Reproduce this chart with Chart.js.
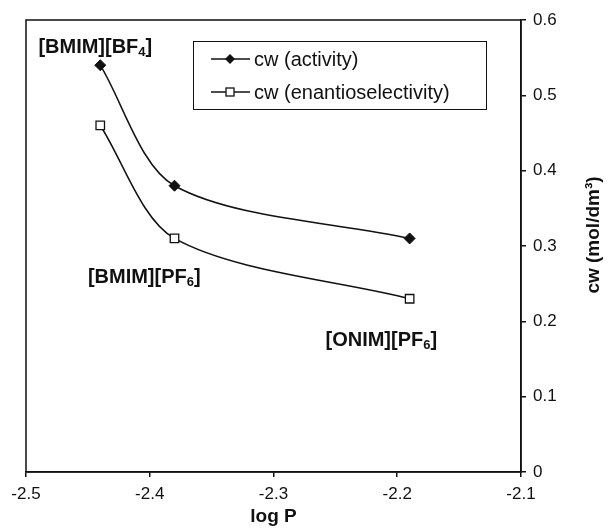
<!DOCTYPE html>
<html>
<head>
<meta charset="utf-8">
<script src="https://cdn.jsdelivr.net/npm/chart.js"></script>
<style>
  html, body { margin:0; padding:0; background:#fff; }
  #wrap { width:615px; height:532px; position:relative; }
</style>
</head>
<body>
<div id="wrap"><canvas id="chart"></canvas></div>
<script>
// ── Data ──────────────────────────────────────────────────────────────
const logP        = [-2.44, -2.38, -2.19];
const cwActivity  = [0.54, 0.38, 0.31];
const cwEnantio   = [0.46, 0.31, 0.23];
const seriesNames = ['cw (activity)', 'cw (enantioselectivity)'];
const xTicks      = [-2.5, -2.4, -2.3, -2.2, -2.1];
const yTicks      = [0, 0.1, 0.2, 0.3, 0.4, 0.5, 0.6];

// solvent labels: base text + subscript, anchored in data units (left / middle)
const solventNames = [
    { base:'[BMIM][BF', sub:'4', tail:']', x:-2.490, y:0.564 },
    { base:'[BMIM][PF', sub:'6', tail:']', x:-2.450, y:0.258 },
    { base:'[ONIM][PF', sub:'6', tail:']', x:-2.258, y:0.175 },
];

const FONT = "'Liberation Sans', Arial, sans-serif";
const INK  = '#111';

// ── Helpers ───────────────────────────────────────────────────────────
function toPoints(xs, ys) {
    return xs.map((x, i) => ({ x, y: ys[i] }));
}

function drawDiamond(ctx, x, y, r) {
    ctx.beginPath();
    ctx.moveTo(x, y - r); ctx.lineTo(x + r, y); ctx.lineTo(x, y + r); ctx.lineTo(x - r, y);
    ctx.closePath();
    ctx.fillStyle = INK; ctx.fill();
}

function drawSquare(ctx, x, y, h) {
    ctx.fillStyle = '#fff';
    ctx.fillRect(x - h, y - h, 2*h, 2*h);
    ctx.strokeStyle = INK; ctx.lineWidth = 1.3;
    ctx.strokeRect(x - h, y - h, 2*h, 2*h);
}

// ── Extra drawing: frame, legend, solvent names, right axis title ────
const decorPlugin = {
    id: 'decor',
    afterDraw(chart) {
        const { ctx, chartArea: a, scales } = chart;
        ctx.save();

        // frame round the plot
        ctx.strokeStyle = INK; ctx.lineWidth = 1.5;
        ctx.strokeRect(a.left, a.top, a.right - a.left, a.bottom - a.top);

        // legend box
        ctx.lineWidth = 1;
        ctx.strokeRect(193.5, 41.5, 293, 68);
        ctx.font = `20px ${FONT}`;
        ctx.textBaseline = 'middle';
        ctx.textAlign = 'left';
        const rows = [59, 92];
        rows.forEach((ry, i) => {
            ctx.strokeStyle = INK; ctx.lineWidth = 1.5;
            ctx.beginPath(); ctx.moveTo(211, ry); ctx.lineTo(250, ry); ctx.stroke();
            if (i === 0) drawDiamond(ctx, 230, ry, 5);
            else drawSquare(ctx, 230, ry, 4);
            ctx.fillStyle = INK;
            ctx.fillText(seriesNames[i], 254, ry + 1);
        });

        // solvent names
        solventNames.forEach(s => {
            let px = scales.x.getPixelForValue(s.x);
            const py = scales.y.getPixelForValue(s.y);
            ctx.fillStyle = INK;
            ctx.font = `bold 20px ${FONT}`;
            ctx.fillText(s.base, px, py);
            px += ctx.measureText(s.base).width;
            ctx.font = `bold 13px ${FONT}`;
            ctx.fillText(s.sub, px, py + 5);
            px += ctx.measureText(s.sub).width;
            ctx.font = `bold 20px ${FONT}`;
            ctx.fillText(s.tail, px, py);
        });

        // right axis title, reading bottom to top
        ctx.translate(594, 235);
        ctx.rotate(-Math.PI / 2);
        ctx.textAlign = 'center';
        ctx.font = `bold 19px ${FONT}`;
        ctx.fillText('cw (mol/dm³)', 0, 0);

        ctx.restore();
    }
};

// ── Chart ─────────────────────────────────────────────────────────────
const lineStyle = { borderColor: INK, borderWidth: 1.5, tension: 0.3, fill: false };

new Chart(document.getElementById('chart'), {
    type: 'line',
    data: {
        datasets: [
            { ...lineStyle, label: seriesNames[0], data: toPoints(logP, cwActivity),
              pointStyle: 'rectRot', pointRadius: 5.5, pointBackgroundColor: INK, pointBorderColor: INK, pointBorderWidth: 1 },
            { ...lineStyle, label: seriesNames[1], data: toPoints(logP, cwEnantio),
              pointStyle: 'rect', pointRadius: 6, pointBackgroundColor: '#fff', pointBorderColor: INK, pointBorderWidth: 1.3 },
        ]
    },
    options: {
        responsive: true,
        maintainAspectRatio: false,
        animation: false,
        layout: { padding: { top: 20, left: 26, right: 0, bottom: 0 } },
        plugins: { legend: { display: false }, tooltip: { enabled: false } },
        scales: {
            x: {
                type: 'linear', position: 'bottom',
                min: xTicks[0], max: xTicks[xTicks.length - 1],
                afterBuildTicks: s => { s.ticks = xTicks.map(v => ({ value: v })); },
                afterFit: s => { s.height = 60; },
                grid: { drawOnChartArea: false, drawTicks: true, tickLength: 5, color: INK, lineWidth: 1.5 },
                border: { display: true, color: INK, width: 1.5 },
                ticks: { color: INK, font: { family: FONT, size: 17 }, padding: 7, maxRotation: 0,
                          callback: v => v.toFixed(1) },
                title: { display: true, text: 'log P', color: INK, font: { family: FONT, size: 19, weight: 'bold' }, padding: { top: 4 } },
            },
            y: {
                type: 'linear', position: 'right',
                min: yTicks[0], max: yTicks[yTicks.length - 1],
                afterBuildTicks: s => { s.ticks = yTicks.map(v => ({ value: v })); },
                afterFit: s => { s.width = 94; },
                grid: { drawOnChartArea: false, drawTicks: true, tickLength: 5, color: INK, lineWidth: 1.5 },
                border: { display: true, color: INK, width: 1.5 },
                ticks: { color: INK, font: { family: FONT, size: 17 }, padding: 7,
                          callback: v => v === 0 ? '0' : v.toFixed(1) },
            }
        }
    },
    plugins: [decorPlugin]
});
</script>
</body>
</html>
